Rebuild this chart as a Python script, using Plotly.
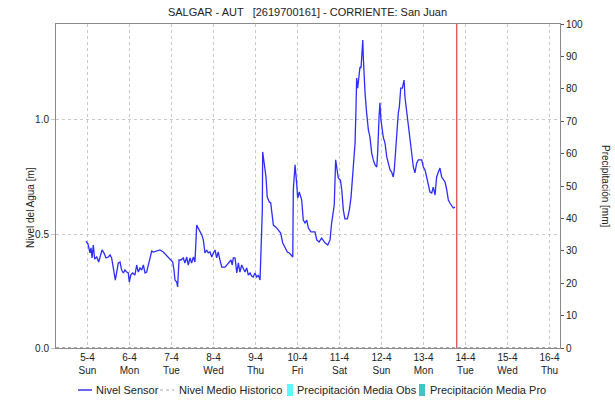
import pandas as pd
import plotly.graph_objects as go

# Water level readings: hours elapsed since 2020-04-05 00:00 and level in metres
hours = [-0.9, 0.3, 1.4, 2.0, 2.6, 3.3, 4.1, 5.3, 6.4, 7.5, 8.3, 9.4, 10.6, 11.9, 12.9, 13.8, 14.7, 15.9,
         16.7, 17.6, 18.6, 19.5, 20.5, 21.4, 22.4, 23.3, 23.9, 24.7, 25.8, 27.1, 28.1, 29.0, 30.0, 31.0,
         31.9, 32.9, 33.8, 34.7, 35.7, 36.7, 37.6, 39.5, 41.4, 43.3, 44.9, 46.2, 47.1, 48.7, 49.4, 50.0,
         51.0, 51.5, 52.3, 53.4, 54.7, 55.7, 56.7, 57.6, 58.6, 59.5, 60.5, 61.4, 62.4, 63.3, 64.3, 65.3,
         66.2, 67.1, 68.1, 69.0, 70.0, 71.0, 71.9, 72.9, 73.8, 74.7, 75.7, 76.7, 78.6, 80.5, 82.0, 82.7,
         83.3, 84.3, 85.3, 86.2, 87.1, 88.1, 89.0, 90.0, 91.0, 91.9, 92.9, 93.8, 94.7, 95.7, 96.7, 97.6,
         98.6, 99.1, 99.9, 100.1, 100.9, 102.0, 102.7, 103.9, 104.7, 105.4, 106.2, 107.7, 109.0, 110.4,
         111.5, 112.9, 114.2, 115.3, 116.1, 117.3, 117.6, 118.6, 119.5, 120.1, 121.0, 122.4, 123.3, 124.3,
         125.3, 126.2, 127.7, 130.0, 131.0, 132.3, 133.8, 135.7, 137.3, 138.6, 139.5, 140.5, 141.0, 141.8,
         142.6, 143.3, 144.5, 145.3, 146.2, 147.1, 148.5, 149.6, 150.6, 151.5, 152.3, 152.9, 153.4, 153.8,
         154.4, 155.0, 155.7, 156.3, 156.7, 157.3, 157.6, 158.0, 158.6, 159.5, 160.5, 161.4, 162.4, 163.3,
         164.3, 165.3, 165.8, 166.6, 167.1, 167.7, 168.5, 169.0, 170.0, 171.0, 171.9, 172.9, 173.8, 174.7,
         175.3, 176.1, 176.7, 177.6, 178.2, 179.0, 179.9, 180.9, 181.4, 182.4, 183.3, 184.3, 185.3, 186.2,
         187.1, 188.1, 189.0, 191.0, 191.9, 192.9, 193.8, 194.7, 195.7, 196.7, 197.6, 198.6, 199.5, 200.5,
         201.4, 202.4, 203.3, 204.3, 205.3, 206.2, 207.1, 208.1, 209.0, 210.0]
nivel = [0.469, 0.456, 0.417, 0.439, 0.395, 0.452, 0.390, 0.399, 0.377, 0.408, 0.430, 0.417, 0.395, 0.399,
         0.408, 0.395, 0.355, 0.298, 0.333, 0.373, 0.377, 0.342, 0.329, 0.342, 0.333, 0.329, 0.289, 0.320,
         0.329, 0.320, 0.364, 0.333, 0.351, 0.342, 0.364, 0.329, 0.333, 0.364, 0.399, 0.425, 0.421, 0.425,
         0.430, 0.421, 0.408, 0.395, 0.386, 0.377, 0.342, 0.298, 0.289, 0.268, 0.386, 0.386, 0.395, 0.373,
         0.399, 0.364, 0.395, 0.373, 0.399, 0.377, 0.539, 0.526, 0.509, 0.496, 0.474, 0.417, 0.430, 0.417,
         0.421, 0.399, 0.417, 0.430, 0.395, 0.421, 0.386, 0.355, 0.355, 0.373, 0.386, 0.364, 0.395, 0.395,
         0.329, 0.373, 0.333, 0.364, 0.351, 0.333, 0.351, 0.320, 0.329, 0.316, 0.311, 0.329, 0.311, 0.320,
         0.298, 0.443, 0.605, 0.860, 0.811, 0.750, 0.662, 0.640, 0.636, 0.575, 0.539, 0.530, 0.518, 0.504,
         0.461, 0.439, 0.421, 0.417, 0.408, 0.399, 0.693, 0.803, 0.724, 0.658, 0.684, 0.649, 0.561, 0.548,
         0.561, 0.526, 0.509, 0.509, 0.474, 0.465, 0.482, 0.461, 0.452, 0.474, 0.548, 0.605, 0.627, 0.825,
         0.768, 0.746, 0.737, 0.693, 0.605, 0.566, 0.566, 0.605, 0.662, 0.750, 0.838, 0.899, 1.044, 1.184,
         1.140, 1.175, 1.232, 1.228, 1.276, 1.351, 1.276, 1.206, 1.118, 1.031, 0.956, 0.925, 0.855, 0.825,
         0.803, 0.794, 0.855, 1.013, 1.075, 1.000, 0.956, 0.925, 0.899, 0.838, 0.811, 0.781, 0.772, 0.750,
         0.781, 0.882, 0.956, 1.031, 1.057, 1.140, 1.140, 1.175, 1.101, 1.031, 0.969, 0.912, 0.838, 0.794,
         0.768, 0.811, 0.825, 0.825, 0.794, 0.781, 0.750, 0.724, 0.684, 0.680, 0.706, 0.671, 0.750, 0.772,
         0.789, 0.750, 0.737, 0.728, 0.693, 0.649, 0.636, 0.627, 0.614, 0.618]

day_ticks = ["2020-04-%02d" % d for d in range(5, 17)]
day_labels = ["5-4<br>Sun", "6-4<br>Mon", "7-4<br>Tue", "8-4<br>Wed", "9-4<br>Thu", "10-4<br>Fri",
              "11-4<br>Sat", "12-4<br>Sun", "13-4<br>Mon", "14-4<br>Tue", "15-4<br>Wed", "16-4<br>Thu"]
nivel_ticks = [0.0, 0.5, 1.0]
nivel_labels = ["0.0", "0.5", "1.0"]
precip_ticks = list(range(0, 101, 10))
current_time = "2020-04-13 19:00"

base = pd.Timestamp("2020-04-05")
times = base + pd.to_timedelta(hours, unit="h")

FONT = "Liberation Sans, Arial, sans-serif"
GRID = "#c8c8c8"
AXIS = "#8a8a8a"

fig = go.Figure()
fig.add_trace(go.Scatter(x=times, y=nivel, mode="lines", name="Nivel Sensor",
                         line=dict(color="rgb(45,45,255)", width=1.3), showlegend=False))
# precipitation axis carries no bars in this period
fig.add_trace(go.Bar(x=[], y=[], yaxis="y2", showlegend=False))

fig.update_layout(
    width=615, height=404,
    margin=dict(l=56, r=55, t=24, b=56),
    paper_bgcolor="white", plot_bgcolor="white",
    font=dict(family=FONT, size=10, color="#222222"),
    title=dict(text="SALGAR - AUT \u00a0\u00a0[2619700161] - CORRIENTE: San Juan",
               x=0.5, xanchor="center", y=1 - 12 / 404, yanchor="middle",
               font=dict(family=FONT, size=11, color="#222222")),
    xaxis=dict(type="date", range=["2020-04-04 06:00", "2020-04-16 06:00"],
               tickvals=day_ticks, ticktext=day_labels, tickfont=dict(size=10),
               showgrid=True, gridcolor=GRID, griddash="dot", gridwidth=1,
               showline=True, linecolor=AXIS, linewidth=1, mirror=True,
               ticks="", zeroline=False),
    yaxis=dict(range=[0, 1.421], tickvals=nivel_ticks, ticktext=nivel_labels,
               showgrid=True, gridcolor=GRID, griddash="dot",
               showline=True, linecolor=AXIS, linewidth=1,
               ticks="outside", ticklen=4, tickcolor=GRID, zeroline=False),
    yaxis2=dict(range=[0, 100], tickvals=precip_ticks, overlaying="y", side="right",
                showgrid=False, showline=True, linecolor=AXIS, linewidth=1,
                ticks="outside", ticklen=3, tickcolor="#555555", zeroline=False),
    showlegend=False,
)

# dotted base line along the bottom edge
fig.add_shape(type="line", xref="paper", yref="y", x0=0, x1=1, y0=0, y1=0,
              line=dict(color="#555555", width=1, dash="dot"))

# marker for the current time
fig.add_shape(type="line", xref="x", yref="paper", x0=current_time, x1=current_time, y0=0, y1=1,
              line=dict(color="#e03c3c", width=1.2))


def px_x(p):
    return (p - 56) / 504


def px_y(p):
    return (348 - p) / 324


# axis titles
fig.add_annotation(text="Nivel del Agua [m]", xref="paper", yref="paper",
                   x=px_x(30), y=px_y(208), xanchor="center", yanchor="middle",
                   textangle=-90, showarrow=False,
                   font=dict(family=FONT, size=10, color="#222222"))
fig.add_annotation(text="Precipitación [mm]", xref="paper", yref="paper",
                   x=px_x(606), y=px_y(186), xanchor="center", yanchor="middle",
                   textangle=90, showarrow=False,
                   font=dict(family=FONT, size=10, color="#222222"))

# legend row
ly = 390
fig.add_shape(type="line", xref="paper", yref="paper", x0=px_x(78), x1=px_x(92), y0=px_y(ly), y1=px_y(ly),
              line=dict(color="rgb(20,20,230)", width=1.3))
fig.add_shape(type="line", xref="paper", yref="paper", x0=px_x(160), x1=px_x(174), y0=px_y(ly), y1=px_y(ly),
              line=dict(color="#c4c4c4", width=1.3, dash="3px,3px"))
fig.add_shape(type="rect", xref="paper", yref="paper", x0=px_x(287), x1=px_x(293),
              y0=px_y(ly + 6), y1=px_y(ly - 6), line=dict(width=0), fillcolor="#5cf8fa")
fig.add_shape(type="rect", xref="paper", yref="paper", x0=px_x(419), x1=px_x(425),
              y0=px_y(ly + 6), y1=px_y(ly - 6), line=dict(width=0), fillcolor="#3fc6c0")
for label, xs in [("Nivel Sensor", 94), ("Nivel Medio Historico", 177),
                  ("Precipitación Media Obs", 295), ("Precipitación Media Pro", 428)]:
    fig.add_annotation(text=label, xref="paper", yref="paper", x=px_x(xs), y=px_y(ly),
                       xanchor="left", yanchor="middle", showarrow=False,
                       font=dict(family=FONT, size=11, color="#222222"))

fig.write_html("out.html")
